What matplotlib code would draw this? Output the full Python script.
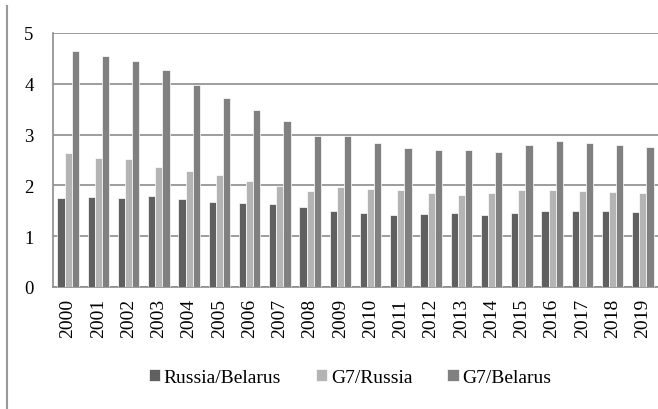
import matplotlib.pyplot as plt
import matplotlib.lines as mlines
import numpy as np

plt.rcParams['font.family'] = ['Liberation Serif', 'DejaVu Serif']

years = [str(y) for y in range(2000, 2020)]
russia_belarus = [1.75, 1.78, 1.75, 1.80, 1.73, 1.67, 1.65, 1.63, 1.57, 1.50,
                  1.45, 1.42, 1.44, 1.46, 1.42, 1.45, 1.50, 1.49, 1.49, 1.48]
g7_russia = [2.64, 2.54, 2.52, 2.36, 2.28, 2.21, 2.08, 1.98, 1.88, 1.96,
             1.93, 1.90, 1.85, 1.82, 1.85, 1.91, 1.91, 1.88, 1.86, 1.85]
g7_belarus = [4.64, 4.55, 4.45, 4.27, 3.98, 3.72, 3.48, 3.26, 2.98, 2.97,
              2.83, 2.73, 2.70, 2.69, 2.66, 2.80, 2.87, 2.83, 2.79, 2.75]

series = [('Russia/Belarus', russia_belarus, '#606060'),
          ('G7/Russia', g7_russia, '#b4b4b4'),
          ('G7/Belarus', g7_belarus, '#808080')]

fig = plt.figure(figsize=(6.58, 4.10), dpi=100)
ax = fig.add_axes([0.0805, 0.2976, 0.9195, 0.6195])

x = np.arange(len(years))
w = 0.235
for i, (name, vals, col) in enumerate(series):
    ax.bar(x + (i - 1) * w, vals, width=w, color=col, edgecolor='white',
           linewidth=0.5, label=name, zorder=3)

ax.set_xlim(-0.5, len(years) - 0.5)
ax.set_ylim(0, 5)
ax.set_yticks(range(0, 6))
ax.yaxis.grid(True, color='#8c8c8c', linewidth=1.2, zorder=0)
ax.set_xticks(x)
ax.set_xticklabels(years, rotation=90, fontsize=14)
ax.tick_params(axis='y', labelsize=13.5, length=0, pad=14)
ax.tick_params(axis='x', length=0, pad=8)
for s in ['top', 'right']:
    ax.spines[s].set_visible(False)
for s in ['left', 'bottom']:
    ax.spines[s].set_color('#8c8c8c')
    ax.spines[s].set_linewidth(1.2)

fig.legend(loc='center', bbox_to_anchor=(0.532, 0.078), ncol=3, frameon=False,
           fontsize=14, handlelength=0.57, handleheight=0.57, handletextpad=0.2,
           columnspacing=1.8)

fig.add_artist(mlines.Line2D([0.011, 0.011], [0, 0.983], color='#999999',
                             linewidth=1.5, transform=fig.transFigure))

fig.savefig('out.png', dpi=100)
